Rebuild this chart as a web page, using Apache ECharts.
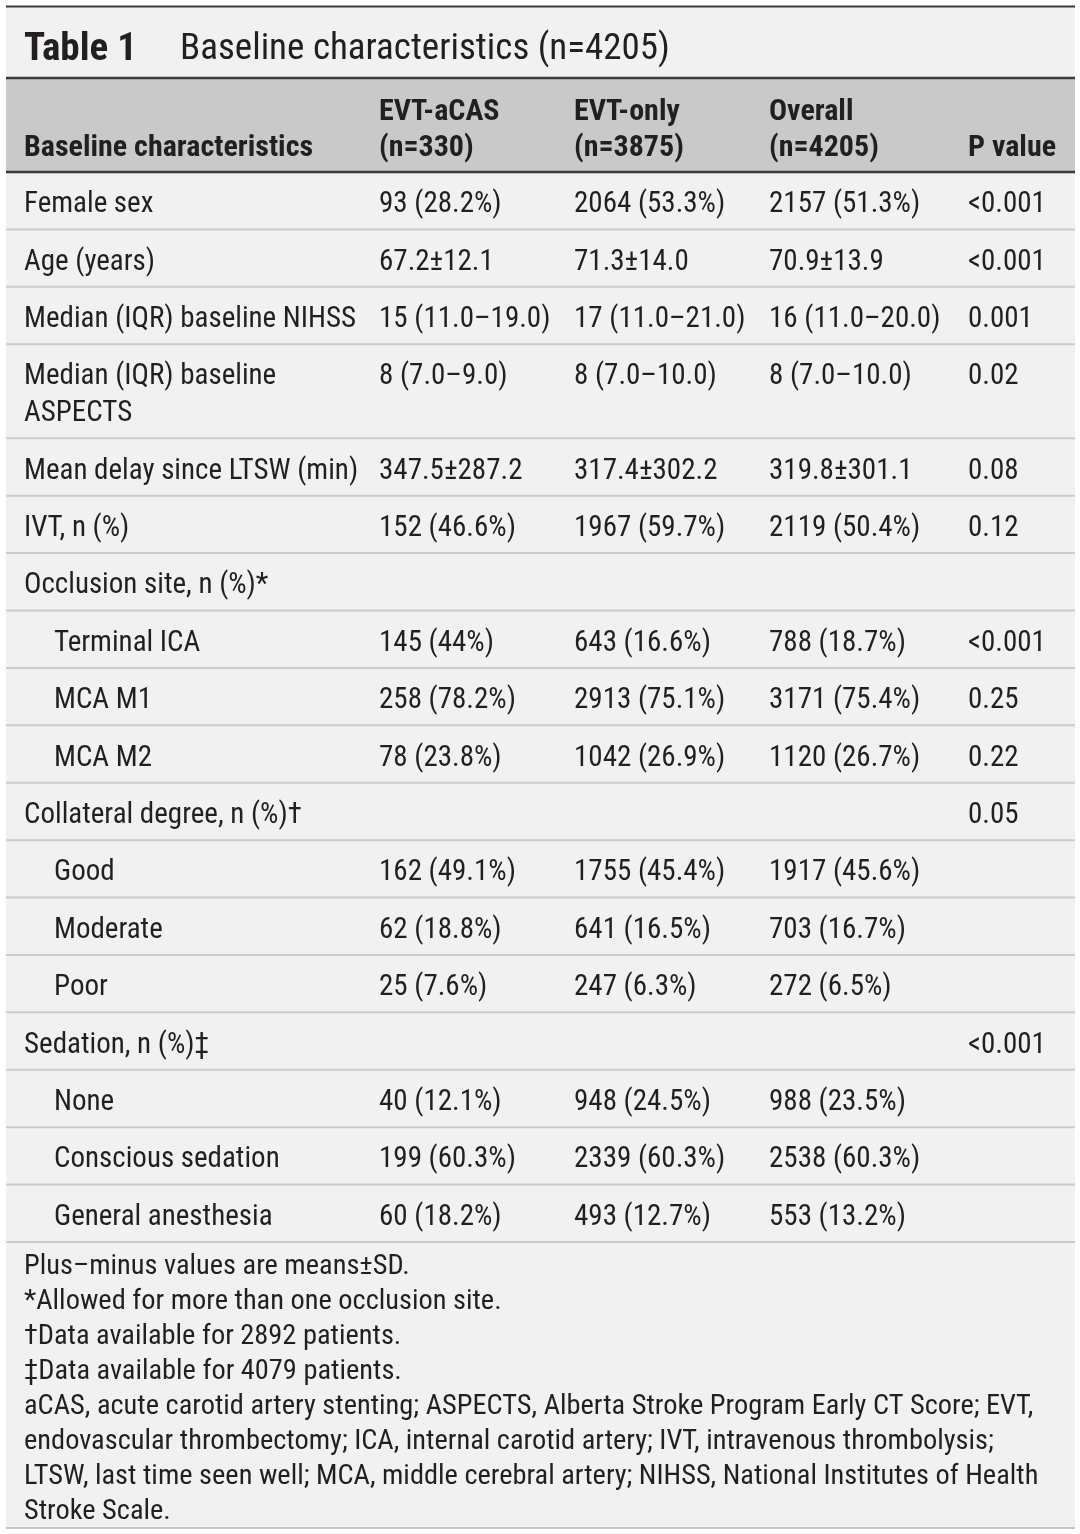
<!DOCTYPE html>
<html><head><meta charset="utf-8">
<script src="https://cdn.jsdelivr.net/npm/echarts@6/dist/echarts.min.js"></script>
<style>html,body{margin:0;padding:0;background:#fff}</style>
</head><body>
<div id="c" style="width:1080px;height:1534px"></div>
<script>
// ---- Data ----
const tableTitleNo = 'Table 1';
const tableTitle = 'Baseline characteristics (n=4205)';
const headers = ['Baseline characteristics', 'EVT-aCAS\n(n=330)', 'EVT-only\n(n=3875)', 'Overall\n(n=4205)', 'P value'];
const rowLabels = [
  'Female sex', 'Age (years)', 'Median (IQR) baseline NIHSS', 'Median (IQR) baseline\nASPECTS',
  'Mean delay since LTSW (min)', 'IVT, n (%)', 'Occlusion site, n (%)*', 'Terminal ICA', 'MCA M1', 'MCA M2',
  'Collateral degree, n (%)\u2020', 'Good', 'Moderate', 'Poor', 'Sedation, n (%)\u2021', 'None',
  'Conscious sedation', 'General anesthesia'
];
const rowIndent = [0,0,0,0,0,0,0,1,1,1,0,1,1,1,0,1,1,1];
const evtAcas = ['93 (28.2%)','67.2\u00b112.1','15 (11.0\u201319.0)','8 (7.0\u20139.0)','347.5\u00b1287.2','152 (46.6%)','',
  '145 (44%)','258 (78.2%)','78 (23.8%)','','162 (49.1%)','62 (18.8%)','25 (7.6%)','','40 (12.1%)','199 (60.3%)','60 (18.2%)'];
const evtOnly = ['2064 (53.3%)','71.3\u00b114.0','17 (11.0\u201321.0)','8 (7.0\u201310.0)','317.4\u00b1302.2','1967 (59.7%)','',
  '643 (16.6%)','2913 (75.1%)','1042 (26.9%)','','1755 (45.4%)','641 (16.5%)','247 (6.3%)','','948 (24.5%)','2339 (60.3%)','493 (12.7%)'];
const overall = ['2157 (51.3%)','70.9\u00b113.9','16 (11.0\u201320.0)','8 (7.0\u201310.0)','319.8\u00b1301.1','2119 (50.4%)','',
  '788 (18.7%)','3171 (75.4%)','1120 (26.7%)','','1917 (45.6%)','703 (16.7%)','272 (6.5%)','','988 (23.5%)','2538 (60.3%)','553 (13.2%)'];
const pValues = ['<0.001','<0.001','0.001','0.02','0.08','0.12','','<0.001','0.25','0.22','0.05','','','','<0.001','','',''];
const footnotes = [
  'Plus\u2013minus values are means\u00b1SD.',
  '*Allowed for more than one occlusion site.',
  '\u2020Data available for 2892 patients.',
  '\u2021Data available for 4079 patients.',
  'aCAS, acute carotid artery stenting; ASPECTS, Alberta Stroke Program Early CT Score; EVT,',
  'endovascular thrombectomy; ICA, internal carotid artery; IVT, intravenous thrombolysis;',
  'LTSW, last time seen well; MCA, middle cerebral artery; NIHSS, National Institutes of Health',
  'Stroke Scale.'
];

// ---- Layout / style ----
const W = 1080, H = 1534;
const FONT = '"Roboto Condensed", "DejaVu Sans Condensed", sans-serif';
const INK = '#231f20';
const colX = [24, 379, 574, 769, 968];
const indentPx = 30;
const tableL = 6, tableR = 1075;
const bodyTop = 172, bodyBottom = 1242;
const extraLineUnits = 0.638;

const rowUnits = rowLabels.map(l => 1 + (l.split('\n').length - 1) * extraLineUnits);
let acc = 0;
const rowData = rowLabels.map((l, i) => { const s = acc; acc += rowUnits[i]; return [s, acc, i]; });
const totalUnits = acc;

const chart = echarts.init(document.getElementById('c'), null, {renderer: 'canvas'});

function renderRow(params, api) {
  const i = api.value(2);
  const top = api.coord([0, api.value(0)])[1];
  const bot = api.coord([0, api.value(1)])[1];
  const xL = api.coord([tableL, 0])[0], xR = api.coord([tableR, 0])[0];
  const cells = [rowLabels[i], evtAcas[i], evtOnly[i], overall[i], pValues[i]];
  const children = [{
    type: 'line', shape: {x1: xL, y1: bot, x2: xR, y2: bot},
    style: {stroke: '#cbcbcb', lineWidth: 2}
  }];
  cells.forEach((t, c) => {
    if (!t) return;
    const x = api.coord([colX[c] + (c === 0 && rowIndent[i] ? indentPx : 0), 0])[0];
    children.push({
      type: 'text',
      style: {text: t, x: x, y: top + 14.5, font: '29px ' + FONT, fill: INK,
        textAlign: 'left', verticalAlign: 'top', lineHeight: 37}
    });
  });
  return {type: 'group', children: children};
}

const graphics = [
  {type: 'rect', z: -10, shape: {x: tableL, y: 6, width: tableR - tableL, height: 1523}, style: {fill: '#f1f1f1'}},
  {type: 'rect', z: -9, shape: {x: tableL, y: 78, width: tableR - tableL, height: 94}, style: {fill: '#c9c9c9'}},
  {type: 'line', z: 10, shape: {x1: tableL, y1: 6.5, x2: tableR, y2: 6.5}, style: {stroke: '#3a3a3a', lineWidth: 2}},
  {type: 'line', z: 10, shape: {x1: tableL, y1: 78, x2: tableR, y2: 78}, style: {stroke: '#3a3a3a', lineWidth: 2.5}},
  {type: 'line', z: 10, shape: {x1: tableL, y1: 172, x2: tableR, y2: 172}, style: {stroke: '#3a3a3a', lineWidth: 2.5}},
  {type: 'line', z: 10, shape: {x1: tableL, y1: 1528, x2: tableR, y2: 1528}, style: {stroke: '#c6c6c6', lineWidth: 2}},
  {type: 'text', z: 10, style: {text: tableTitleNo, x: 24, y: 50, font: 'bold 39px ' + FONT, fill: INK, verticalAlign: 'middle'}},
  {type: 'text', z: 10, style: {text: tableTitle, x: 180, y: 50, font: '37px ' + FONT, fill: INK, verticalAlign: 'middle'}},
  {type: 'text', z: 10, style: {text: footnotes.join('\n'), x: 24, y: 1249, font: '28.4px ' + FONT, fill: INK,
    verticalAlign: 'top', lineHeight: 35.1}}
];
headers.forEach((h, c) => {
  graphics.push({type: 'text', z: 10, style: {text: h, x: colX[c], y: 166, font: 'bold 30px ' + FONT, fill: INK,
    verticalAlign: 'bottom', lineHeight: 36}});
});

chart.setOption({
  animation: false,
  grid: {left: 0, right: 0, top: bodyTop, height: bodyBottom - bodyTop},
  xAxis: {type: 'value', min: 0, max: W, show: false},
  yAxis: {type: 'value', min: 0, max: totalUnits, inverse: true, show: false},
  graphic: graphics,
  series: [{
    type: 'custom', renderItem: renderRow, data: rowData, z: 5,
    encode: {y: [0, 1]}, clip: false, silent: true
  }]
});
</script>
</body></html>
